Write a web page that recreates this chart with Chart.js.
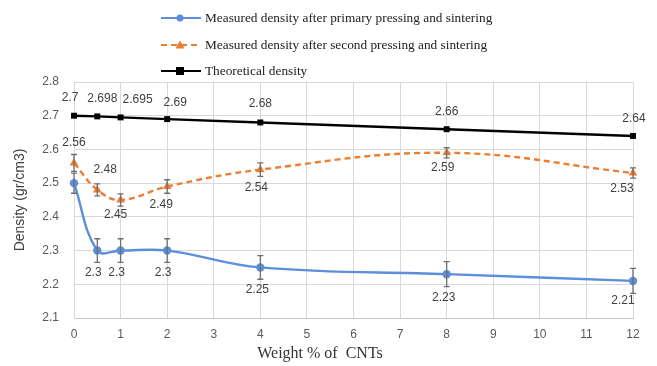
<!DOCTYPE html>
<html>
<head>
<meta charset="utf-8">
<script src="https://cdn.jsdelivr.net/npm/chart.js@4"></script>
<style>
  body { margin: 0; background: #fff; }
  #wrap { position: relative; width: 657px; height: 366px; }
  #legend { position: absolute; left: 160px; top: 5px; font: 13.3px "Liberation Serif", serif; color: #222; }
  .item { height: 26.5px; display: flex; align-items: center; }
  .item svg { margin-right: 3px; }
  #xtitle { position: absolute; left: 255px; top: 344px; width: 130px; text-align: center;
            font: 16px "Liberation Serif", serif; color: #333; }
</style>
</head>
<body>
<div id="wrap">
  <canvas id="chart" width="657" height="366"></canvas>
  <div id="legend"></div>
  <div id="xtitle">Weight % of&nbsp; CNTs</div>
</div>
<script>
// Data
const cntWeight = [0, 0.5, 1, 2, 4, 8, 12];
const primaryDensity = [2.5, 2.3, 2.3, 2.3, 2.25, 2.23, 2.21];
const primaryError = [0.03, 0.035, 0.035, 0.035, 0.035, 0.037, 0.037];
const secondDensity = [2.56, 2.48, 2.45, 2.49, 2.54, 2.59, 2.53];
const secondError = [0.025, 0.018, 0.018, 0.02, 0.02, 0.015, 0.015];
const theoreticalDensity = [2.7, 2.698, 2.695, 2.69, 2.68, 2.66, 2.64];
const yTicks = [2.1, 2.2, 2.3, 2.4, 2.5, 2.6, 2.7, 2.8];

// label placement (pixel offsets from the point), null = no label
const primaryLabelPos = [null, [-4, 22], [-4, 22], [-4, 22], [-3, 22], [-3, 24], [-10, 20]];
const secondLabelPos = [[0, -20], [8, -20], [-5, 15], [-6, 18], [-4, 18], [-4, 15], [-11, 16]];
const theoLabelPos = [[-4, -18], [5, -18], [17, -18], [8, -16], [0, -19], [0, -18], [1, -17]];

const toPoints = ys => ys.map((y, i) => ({ x: cntWeight[i], y: y }));

const series = [
  { label: 'Measured density after primary pressing and sintering', data: primaryDensity,
    err: primaryError, labelPos: primaryLabelPos, color: '#5b8fd9', style: 'circle', dash: [], tension: 0.4 },
  { label: 'Measured density after second pressing and sintering', data: secondDensity,
    err: secondError, labelPos: secondLabelPos, color: '#ed7d31', style: 'triangle', dash: [6, 4], tension: 0.4 },
  { label: 'Theoretical density', data: theoreticalDensity,
    err: null, labelPos: theoLabelPos, color: '#000000', style: 'rect', dash: [], tension: 0 }
];

// legend
const legend = document.getElementById('legend');
series.forEach(s => {
  let mark = '';
  if (s.style === 'circle') mark = `<circle cx="20" cy="6" r="3.5" fill="${s.color}"/>`;
  if (s.style === 'triangle') mark = `<polygon points="20,1.5 24.5,9.5 15.5,9.5" fill="${s.color}"/>`;
  if (s.style === 'rect') mark = `<rect x="16" y="2" width="8" height="8" fill="${s.color}"/>`;
  const div = document.createElement('div');
  div.className = 'item';
  div.innerHTML = `<svg width="42" height="12"><line x1="1" y1="6" x2="41" y2="6" stroke="${s.color}" stroke-width="2.2" stroke-dasharray="${s.dash.join(' ')}"/>${mark}</svg><span>${s.label}</span>`;
  legend.appendChild(div);
});

// error bars
const errorBars = {
  id: 'errorBars',
  afterDatasetsDraw(chart) {
    const ctx = chart.ctx;
    const yScale = chart.scales.y;
    ctx.save();
    ctx.strokeStyle = '#6f6f6f';
    ctx.lineWidth = 1.3;
    series.forEach((s, di) => {
      if (!s.err) return;
      chart.getDatasetMeta(di).data.forEach((pt, i) => {
        const top = yScale.getPixelForValue(s.data[i] + s.err[i]);
        const bot = yScale.getPixelForValue(s.data[i] - s.err[i]);
        ctx.beginPath();
        ctx.moveTo(pt.x, top); ctx.lineTo(pt.x, bot);
        ctx.moveTo(pt.x - 3, top); ctx.lineTo(pt.x + 3, top);
        ctx.moveTo(pt.x - 3, bot); ctx.lineTo(pt.x + 3, bot);
        ctx.stroke();
      });
    });
    ctx.restore();
  }
};

// value labels
const valueLabels = {
  id: 'valueLabels',
  afterDraw(chart) {
    const ctx = chart.ctx;
    ctx.save();
    ctx.font = '12px "Liberation Sans", sans-serif';
    ctx.fillStyle = '#404040';
    ctx.textAlign = 'center';
    ctx.textBaseline = 'middle';
    series.forEach((s, di) => {
      chart.getDatasetMeta(di).data.forEach((pt, i) => {
        const p = s.labelPos[i];
        if (!p) return;
        ctx.fillText(String(s.data[i]), pt.x + p[0], pt.y + p[1]);
      });
    });
    ctx.restore();
  }
};

new Chart(document.getElementById('chart').getContext('2d'), {
  type: 'line',
  data: {
    datasets: series.map(s => ({
      label: s.label,
      data: toPoints(s.data),
      borderColor: s.color,
      backgroundColor: s.color,
      borderWidth: 2.4,
      borderDash: s.dash,
      pointStyle: s.style,
      pointRadius: s.style === 'triangle' ? 5 : 4.2,
      pointBorderWidth: 0,
      tension: s.tension,
      fill: false,
      clip: false
    }))
  },
  options: {
    responsive: false,
    animation: false,
    layout: { padding: { top: 82, right: 24, left: 0, bottom: 0 } },
    plugins: { legend: { display: false }, tooltip: { enabled: false } },
    scales: {
      x: {
        type: 'linear', min: 0, max: 12,
        ticks: { stepSize: 1, padding: 9, color: '#595959', font: { family: 'Liberation Sans', size: 12 } },
        grid: { color: '#d9d9d9', drawTicks: false },
        border: { color: '#c8c8c8' },
        afterFit: s => { s.height = 48; }
      },
      y: {
        min: 2.1, max: 2.8,
        afterBuildTicks: s => { s.ticks = yTicks.map(v => ({ value: v })); },
        ticks: { padding: 15, color: '#595959', font: { family: 'Liberation Sans', size: 12 },
                 callback: v => v.toFixed(1) },
        grid: { color: '#d9d9d9', drawTicks: false },
        border: { color: '#d9d9d9' },
        title: { display: true, text: 'Density (gr/cm3)', color: '#404040',
                 font: { family: 'Liberation Sans', size: 14 }, padding: { top: 12, bottom: 0 } },
        afterFit: s => { s.width = 74; }
      }
    }
  },
  plugins: [errorBars, valueLabels]
});
</script>
</body>
</html>
